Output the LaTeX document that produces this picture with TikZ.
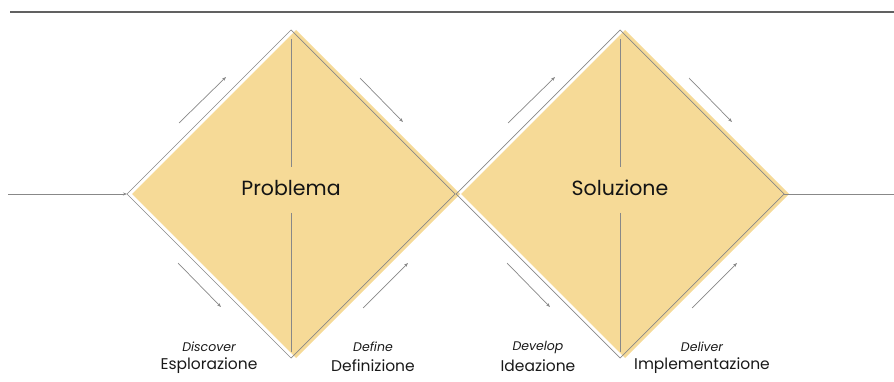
\documentclass[tikz,border=0pt]{standalone}
\usepackage{fontspec}
\setmainfont{Poppins}
\usetikzlibrary{arrows.meta}
\definecolor{sabbia}{HTML}{F6DA97}
\definecolor{grigio}{HTML}{888888}
\tikzset{
  filo/.style={draw=grigio, line width=0.7pt},
  freccia/.style={filo, -{Stealth[length=4pt,width=3pt]}},
  titolo/.style={font=\fontsize{20.5}{20.5}\selectfont, text=black!92},
  fase/.style={font=\fontsize{12.5}{12.5}\selectfont\itshape, text=black!90},
  nome/.style={font=\fontsize{15.5}{15.5}\selectfont, text=black!90},
}
\begin{document}
\begin{tikzpicture}[x=1pt,y=-1pt]
\useasboundingbox (0,0) rectangle (894,382);
\coordinate (riga-a) at (10,12.5);
\coordinate (riga-b) at (894,12.5);
\draw[line width=2pt, draw=black!62] (riga-a) -- (riga-b);
\foreach \c/\n/\t/\fa/\na/\fb/\nb in {291/P/Problema/Discover/Esplorazione/Define/Definizione,
  620/S/Soluzione/Develop/Ideazione/Deliver/Implementazione} {
  \begin{scope}[shift={(\c,194)}]
  \fill[sabbia] (5,-164) -- (169,0) -- (5,164) -- (-159,0) -- cycle;
  \coordinate (\n-l) at (-164,0);
  \coordinate (\n-t) at (0,-164);
  \coordinate (\n-r) at (164,0);
  \coordinate (\n-b) at (0,164);
  \draw[filo] (\n-l) -- (\n-t) -- (\n-r) -- (\n-b) -- cycle;
  \coordinate (\n-va) at (0,-155);
  \coordinate (\n-vb) at (0,-27);
  \coordinate (\n-vc) at (0,19);
  \coordinate (\n-vd) at (0,158);
  \draw[filo] (\n-va) -- (\n-vb);
  \draw[filo] (\n-vc) -- (\n-vd);
  \node[titolo] (\n-titolo) at (0,-6) {\t};
  \node[fase] (\n-fa) at (-82,153) {\fa};
  \node[nome] (\n-na) at (-82,172) {\na};
  \node[fase] (\n-fb) at (82,153) {\fb};
  \node[nome] (\n-nb) at (82,172) {\nb};
  \coordinate (\n-a1) at (-112,-71);
  \coordinate (\n-a2) at (-65,-117);
  \coordinate (\n-b1) at (69,-116);
  \coordinate (\n-b2) at (112,-72);
  \coordinate (\n-c1) at (-113,69);
  \coordinate (\n-c2) at (-70,113);
  \coordinate (\n-d1) at (72,114);
  \coordinate (\n-d2) at (117,69);
  \draw[freccia] (\n-a1) -- (\n-a2);
  \draw[freccia] (\n-b1) -- (\n-b2);
  \draw[freccia] (\n-c1) -- (\n-c2);
  \draw[freccia] (\n-d1) -- (\n-d2);
  \end{scope}
}
\coordinate (ingresso) at (8,194);
\coordinate (uscita) at (894,194);
\draw[freccia] (ingresso) -- (P-l);
\draw[filo] (S-r) -- (uscita);
\end{tikzpicture}
\end{document}
